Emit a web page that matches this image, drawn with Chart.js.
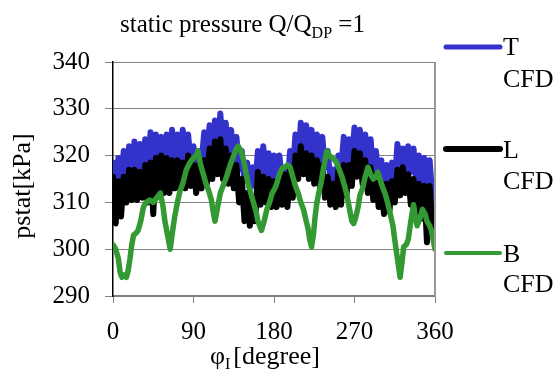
<!DOCTYPE html>
<html><head><meta charset="utf-8">
<script src="https://cdn.jsdelivr.net/npm/chart.js@4.4.0/dist/chart.umd.min.js"></script>
<style>html,body{margin:0;padding:0;background:#fff;}canvas{display:block;}</style>
</head><body>
<canvas id="c" width="558" height="369"></canvas>
<script>
// ---- data ----
const angles = [0,3,6,9,12,15,18,21,24,27,30,33,36,39,42,45,48,51,54,57,60,63,66,69,72,75,78,81,84,87,90,93,96,99,102,105,108,111,114,117,120,123,126,129,132,135,138,141,144,147,150,153,156,159,162,165,168,171,174,177,180,183,186,189,192,195,198,201,204,207,210,213,216,219,222,225,228,231,234,237,240,243,246,249,252,255,258,261,264,267,270,273,276,279,282,285,288,291,294,297,300,303,306,309,312,315,318,321,324,327,330,333,336,339,342,345,348,351,354,357,360];
const seriesT = [318.5,312.5,319.5,314,321,315,322,316,323,316.5,
322.5,317,323.5,317.5,325,318,324.5,318.5,324,317.5,
324.5,318,325.5,318.5,324.5,319,325.5,319,324.5,318,
322,315.5,321,318.5,325,320,326.5,320.5,327.5,321.5,
329,321,327,320,325.5,319,324,317,321,314.5,
318.5,313,317.5,313.5,321,316,322,315.5,320.5,314.5,
320,314.5,320,315,316.5,313.5,321,316.5,324.5,318.5,
327,320,326.5,320,325.5,319,324.5,318,324,317.5,
321,315,317,313.5,320,317,324,317.5,323.5,319,
326,319.5,325.5,319,324.5,318,323.5,316.5,321,314.5,
319,312.5,318,312.5,318.5,314,322.5,316,321.5,315.5,
322,316.5,321.5,314.5,320,314,319.5,313,319,311,
310];
const seriesL = [315.5,305.5,314.5,307,315.5,310,317,310.5,317,310.5,
316.5,311,318,310,318.5,307.5,319.5,311.5,320,312,
319.5,312,319,313,319,313,318.5,313,320,313.5,
318,312,318,313,319,314,321.5,315,323,316,
323.5,315,321.5,314,320,313,318,310,315,306,
312,305,311,306,316.5,309.5,315.5,310,315,309,
314.5,309,315,309.5,316,309,317,311,320,315,
322,316,320.5,315,320,314,319,313.5,318,311,
315.5,309.5,314,309,317,309.5,318,311.5,318,313.5,
321,315.5,320.5,314,319,312,317.5,310.5,316,309,
314,307.5,314,308,314.5,310,317,311.5,317.5,312,
316,309.5,315,307.5,314,306.5,313.5,301.5,313.5,304.5,
305];
const anglesB = [0,3,6,8,10,13,15,17,19,21,23,26,28,31,34,37,41,45,49,53,56,58,61,64,66,69,72,75,78,82,86,90,93,95,98,101,104,107,110,112,114,117,120,124,127,131,135,138,140,143,146,149,151,154,157,160,162,164,166,169,172,175,178,181,183,186,189,192,195,198,201,204,207,210,213,216,218,220,222,224,226,228,230,233,235,237,239,242,245,248,250,253,256,259,261,264,267,269,271,274,276,279,282,285,288,291,294,296,300,304,307,310,313,315,318,321,323,325,328,330,333,336,338,340,343,346,349,351,354,356,358,360];
const seriesB = [301,300,298,295,294,294.5,294,295.5,298,301,
303,303.5,304,306,309,310,310.5,310,311,312,
309,306,303,300,303,307,310,312.5,314,317,
318.5,319.5,320,321,318,316,314,312.5,310.5,308,
306,309,312,314,315.5,318,320,321.5,322,321,
319,316,314,312,310,308,306,305,304,306,
308.5,310,312,313,314,316,317.3,317.5,318,317.5,
315.5,313.5,312,310,308.5,306,304.5,302,300.5,303,
307,310,312,314.5,317,319,321,320,319.5,319,
318.5,317,315.5,313.5,312,309,306,305.5,306.5,309,
311.5,313,315.5,317.5,316,315,315.5,316.5,314,312,
310,307.5,305,302,298,294,297,300.5,301,302,
306,309.5,307,305,306.5,308.5,307.5,306,305,304,
302,300];
const xTicks = [0,90,180,270,360];
const yTicks = [290,300,310,320,330,340];
const seriesNames = ['T','L','B'];
const seriesSuffix = 'CFD';
const titleMain = 'static pressure Q/Q';
const titleSub = 'DP';
const titleEnd = ' =1';
const xTitleMain = 'φ';
const xTitleSub = 'I';
const xTitleEnd = '[degree]';
const yTitle = 'pstat[kPa]';

// ---- styling ----
const serif = "'Liberation Serif','Times New Roman',serif";
const colT = '#3333cc', colL = '#000000', colB = '#339933';

const decor = {
  id: 'decor',
  afterDraw(chart) {
    const ctx = chart.ctx, a = chart.chartArea;
    ctx.save();
    // right border
    ctx.strokeStyle = '#999999';
    ctx.lineWidth = 2;
    ctx.beginPath(); ctx.moveTo(a.right, a.top); ctx.lineTo(a.right, a.bottom); ctx.stroke();
    ctx.fillStyle = '#000';
    ctx.textBaseline = 'alphabetic';
    ctx.textAlign = 'left';
    // title
    ctx.font = '25px ' + serif;
    let x = 120;
    ctx.fillText(titleMain, x, 32); x += ctx.measureText(titleMain).width;
    ctx.font = '16px ' + serif;
    ctx.fillText(titleSub, x, 38); x += ctx.measureText(titleSub).width;
    ctx.font = '25px ' + serif;
    ctx.fillText(titleEnd, x, 32);
    // x title
    x = 210;
    ctx.font = '26px ' + serif;
    ctx.fillText(xTitleMain, x, 364); x += ctx.measureText(xTitleMain).width;
    ctx.font = '16px ' + serif;
    ctx.fillText(xTitleSub, x, 369); x += ctx.measureText(xTitleSub).width + 3;
    ctx.font = '26px ' + serif;
    ctx.fillText(xTitleEnd, x, 364);
    // y title
    ctx.save();
    ctx.translate(30, 186);
    ctx.rotate(-Math.PI / 2);
    ctx.textAlign = 'center';
    ctx.fillText(yTitle, 0, 0);
    ctx.restore();
    // legend
    const legY = [47, 149, 253];
    const legW = [5, 6, 4];
    const ds = chart.data.datasets;
    const nameBase = [55, 158, 262];
    const sufBase = [87, 189, 292];
    for (let i = 0; i < 3; i++) {
      ctx.strokeStyle = ds[i].borderColor;
      ctx.lineWidth = legW[i];
      ctx.lineCap = 'round';
      ctx.beginPath(); ctx.moveTo(446, legY[i]); ctx.lineTo(500, legY[i]); ctx.stroke();
      ctx.font = '26px ' + serif;
      ctx.fillStyle = '#000';
      ctx.fillText(seriesNames[i], 503, nameBase[i]);
      ctx.fillText(seriesSuffix, 503, sufBase[i]);
    }
    ctx.restore();
  }
};

const mk = (xs, ys) => xs.map((v, i) => ({x: v, y: ys[i]}));
const lineStyle = {pointRadius: 0, tension: 0, fill: false, borderJoinStyle: 'round', borderCapStyle: 'round'};

new Chart(document.getElementById('c').getContext('2d'), {
  type: 'line',
  data: {
    datasets: [
      Object.assign({label: seriesNames[0] + ' ' + seriesSuffix, data: mk(angles, seriesT), borderColor: colT, borderWidth: 6, order: 3}, lineStyle),
      Object.assign({label: seriesNames[1] + ' ' + seriesSuffix, data: mk(angles, seriesL), borderColor: colL, borderWidth: 6, order: 2}, lineStyle),
      Object.assign({label: seriesNames[2] + ' ' + seriesSuffix, data: mk(anglesB, seriesB), borderColor: colB, borderWidth: 5.5, order: 1}, lineStyle)
    ]
  },
  options: {
    responsive: false,
    animation: false,
    devicePixelRatio: 1,
    layout: {padding: {left: 0, top: 62, right: 123, bottom: 0}},
    plugins: {legend: {display: false}, tooltip: {enabled: false}, title: {display: false}},
    scales: {
      x: {
        type: 'linear', min: 0, max: 360,
        afterBuildTicks: s => { s.ticks = xTicks.map(v => ({value: v})); },
        afterFit: s => { s.height = 73; },
        grid: {drawOnChartArea: false, drawTicks: true, tickLength: 7, color: '#808080', lineWidth: 1},
        border: {display: true, color: '#808080', width: 1.5},
        ticks: {font: {family: serif, size: 25}, color: '#000', padding: 14, maxRotation: 0, autoSkip: false}
      },
      y: {
        type: 'linear', min: 290, max: 340,
        afterBuildTicks: s => { s.ticks = yTicks.map(v => ({value: v})); },
        afterFit: s => { s.width = 113; },
        grid: {drawOnChartArea: true, drawTicks: true, tickLength: 8, color: '#808080', lineWidth: 1},
        border: {display: true, color: '#000', width: 1.5},
        ticks: {font: {family: serif, size: 25}, color: '#000', padding: 15}
      }
    }
  },
  plugins: [decor]
});
</script>
</body></html>
